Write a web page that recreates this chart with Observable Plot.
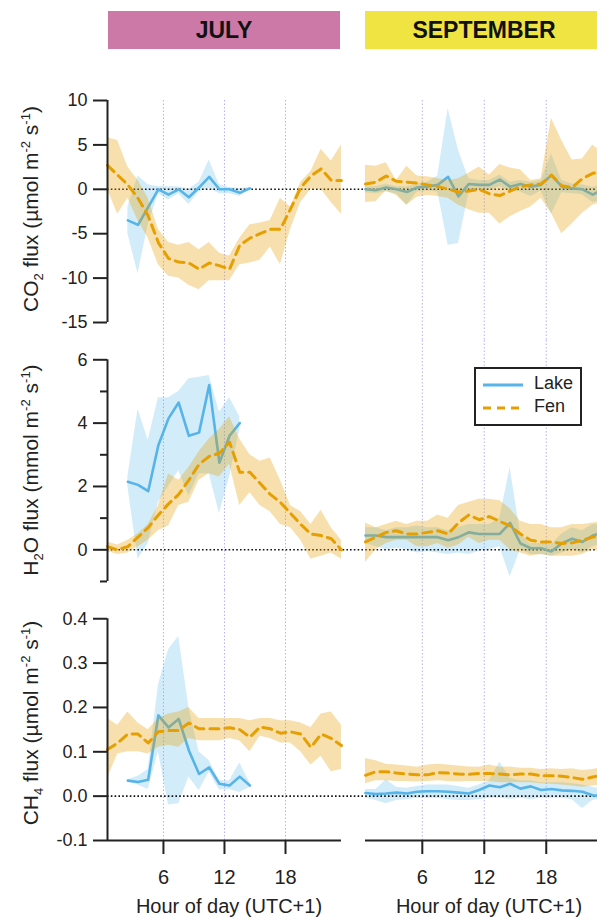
<!DOCTYPE html>
<html><head><meta charset="utf-8">
<script src="https://cdn.jsdelivr.net/npm/d3@7"></script>
<script src="https://cdn.jsdelivr.net/npm/@observablehq/plot@0.6"></script>
<style>
html,body{margin:0;padding:0;overflow:hidden;background:#fff}
body{width:597px;height:919px;position:relative;font-family:"Liberation Sans",Arial,sans-serif;color:#222}
.abs{position:absolute}
.hdr{position:absolute;top:11px;height:38px;line-height:38px;text-align:center;font-weight:bold;font-size:23px;color:#111}
.ytitle{position:absolute;width:300px;text-align:center;font-size:21px;white-space:nowrap;transform:translate(-50%,-50%) rotate(-90deg)}
.ytitle sub,.ytitle sup{font-size:0.62em;line-height:0}
.xtitle{position:absolute;width:240px;text-align:center;font-size:20px;transform:translateX(-50%)}
.legend{position:absolute;left:474px;top:367px;width:104px;height:55px;border:2px solid #222;background:#fff;font-size:18px}
.legend div{position:absolute;left:58px}
</style></head>
<body>
<script>
// ---------- data ----------
const hours = [0.5,1.5,2.5,3.5,4.5,5.5,6.5,7.5,8.5,9.5,10.5,11.5,12.5,13.5,14.5,15.5,16.5,17.5,18.5,19.5,20.5,21.5,22.5,23.5];
const lakeJulyHours = [2.5,3.5,4.5,5.5,6.5,7.5,8.5,9.5,10.5,11.5,12.5,13.5,14.5];
const lakeJulyH2OHours = [2.5,3.5,4.5,5.5,6.5,7.5,8.5,9.5,10.5,11.5,12.5,13.5];
const hourTicks = [6,12,18];
const months = ["JULY","SEPTEMBER"];
const seriesNames = ["Lake","Fen"];

// CO2 July
const co2JulFen   = [2.7,1.6,0.5,-1.0,-3.0,-6.0,-7.8,-8.2,-8.3,-9.0,-8.3,-8.6,-9.0,-6.3,-5.5,-5.0,-4.5,-4.5,-2.2,0.2,1.5,2.3,1.0,1.0];
const co2JulFenHi = [5.8,5.5,2.5,1.0,-1.0,-4.5,-6.0,-6.3,-6.0,-6.8,-6.0,-7.2,-7.5,-5.5,-4.0,-3.8,-3.5,-1.0,-2.0,0.8,2.0,4.5,3.2,5.0];
const co2JulFenLo = [0.0,-2.8,-1.0,-3.5,-5.5,-8.5,-9.8,-10.0,-10.8,-11.3,-10.3,-10.3,-10.3,-8.5,-8.3,-8.0,-6.5,-8.5,-4.5,-1.5,0.0,0.0,-1.5,-2.8];
const co2JulLake   = [-3.5,-4.0,-2.0,0.0,-0.6,0.0,-0.9,0.2,1.4,0.0,0.0,-0.4,0.1];
const co2JulLakeHi = [-2.0,1.5,0.5,0.3,0.3,0.3,0.0,0.8,3.3,0.5,0.2,0.1,0.2];
const co2JulLakeLo = [-5.0,-9.5,-4.0,-0.5,-1.2,-0.5,-1.7,-0.3,0.1,-0.5,-0.5,-0.8,0.0];
// CO2 September
const co2SepFen   = [0.6,0.8,1.5,0.9,0.8,0.7,0.5,0.3,0.0,-0.3,-0.2,0.0,-0.5,-0.7,-0.2,0.3,0.5,0.6,1.6,0.4,0.2,1.2,1.8,2.0];
const co2SepFenHi = [2.7,2.6,3.0,1.0,2.6,1.5,1.4,1.2,1.0,1.2,1.8,2.5,1.6,2.8,2.4,2.2,1.0,1.2,8.0,5.5,3.3,3.4,5.0,4.0];
const co2SepFenLo = [-1.5,-1.4,-0.2,-0.7,-1.8,-0.9,-0.7,-0.8,-1.0,-1.8,-2.3,-2.7,-2.7,-3.9,-3.1,-2.5,-2.0,-1.0,-2.7,-5.0,-3.9,-2.7,-1.8,-1.4];
const co2SepLake   = [0.0,-0.1,0.2,0.0,-0.3,0.2,0.3,0.5,1.4,-0.8,0.6,0.5,0.5,1.1,0.3,0.6,0.3,0.5,1.6,0.3,0.1,0.0,-0.6,0.0];
const co2SepLakeHi = [0.3,0.3,0.6,0.3,0.3,0.6,0.8,1.5,9.1,4.4,1.2,1.0,1.0,1.6,0.8,1.0,0.8,1.0,4.0,1.0,0.6,0.5,0.2,0.5];
const co2SepLakeLo = [-0.4,-0.5,-0.3,-0.5,-1.8,-0.3,-0.2,-0.3,-6.3,-6.1,-0.5,-0.1,-0.1,0.3,-0.2,-0.3,-0.8,-0.2,-2.8,-0.4,-0.5,-0.6,-1.5,-1.3];
// H2O July
const h2oJulFen   = [0.1,0.0,0.1,0.4,0.7,1.1,1.45,1.75,2.2,2.7,2.95,3.05,3.4,2.45,2.45,2.1,1.75,1.5,1.15,0.8,0.5,0.45,0.35,0.0];
const h2oJulFenHi = [0.25,0.15,0.3,0.5,0.8,1.4,2.4,2.2,2.6,3.1,3.5,3.8,4.2,3.5,3.0,2.8,2.9,2.2,1.4,1.2,0.8,1.25,0.7,0.3];
const h2oJulFenLo = [-0.05,-0.15,-0.1,0.1,0.3,0.6,0.75,1.4,1.5,2.2,2.4,2.3,2.7,1.4,1.8,1.4,1.2,0.8,0.7,0.3,-0.3,-0.2,-0.1,-0.3];
const h2oJulLake   = [2.15,2.05,1.85,3.3,4.15,4.65,3.6,3.7,5.2,2.75,3.6,4.0];
const h2oJulLakeHi = [2.3,4.45,3.45,4.8,4.8,5.0,5.4,5.45,5.5,4.35,4.8,4.2];
const h2oJulLakeLo = [2.0,-0.3,0.2,1.5,2.0,2.5,1.7,2.4,2.4,1.15,2.3,3.8];
// H2O September
const h2oSepFen   = [0.25,0.4,0.55,0.6,0.5,0.5,0.55,0.6,0.5,0.85,1.1,0.95,1.05,0.9,0.75,0.5,0.3,0.25,0.25,0.2,0.22,0.3,0.4,0.45];
const h2oSepFenHi = [0.85,0.7,0.8,0.9,0.8,0.9,0.9,1.1,1.0,1.4,1.5,1.6,1.6,1.55,1.3,0.9,0.8,0.8,0.7,0.7,0.8,0.8,0.85,0.9];
const h2oSepFenLo = [-0.4,0.0,0.2,0.3,0.3,0.1,0.1,0.2,0.05,0.15,0.4,0.2,0.3,0.3,0.0,-0.1,-0.2,-0.15,-0.2,-0.2,-0.2,-0.15,0.0,-0.1];
const h2oSepLake   = [0.45,0.45,0.4,0.4,0.4,0.4,0.4,0.4,0.3,0.4,0.55,0.5,0.5,0.5,0.85,0.2,0.05,0.05,-0.05,0.2,0.35,0.25,0.45,0.55];
const h2oSepLakeHi = [0.7,0.7,0.6,0.7,0.7,0.75,0.7,0.7,0.6,0.7,0.8,0.8,0.8,1.0,2.6,0.5,0.2,0.2,0.15,0.5,0.7,0.6,0.8,0.8];
const h2oSepLakeLo = [0.2,0.1,0.0,0.05,0.0,-0.1,-0.05,-0.1,-0.15,-0.1,-0.15,-0.05,0.0,0.1,-0.85,0.0,-0.15,-0.15,-0.2,-0.1,0.0,-0.1,0.1,0.2];
// CH4 July
const ch4JulFen   = [0.105,0.12,0.14,0.14,0.12,0.145,0.148,0.148,0.165,0.152,0.152,0.152,0.154,0.15,0.133,0.156,0.152,0.142,0.145,0.14,0.11,0.14,0.13,0.114];
const ch4JulFenHi = [0.175,0.16,0.19,0.165,0.15,0.175,0.185,0.19,0.2,0.175,0.175,0.175,0.175,0.175,0.17,0.175,0.175,0.17,0.17,0.165,0.155,0.185,0.19,0.16];
const ch4JulFenLo = [0.04,0.095,0.1,0.1,0.095,0.11,0.115,0.11,0.13,0.125,0.125,0.125,0.13,0.125,0.1,0.135,0.13,0.12,0.12,0.1,0.07,0.09,0.055,0.06];
const ch4JulLake   = [0.035,0.032,0.037,0.182,0.155,0.174,0.103,0.05,0.065,0.028,0.024,0.044,0.024];
const ch4JulLakeHi = [0.037,0.045,0.06,0.25,0.33,0.36,0.2,0.1,0.08,0.035,0.035,0.075,0.03];
const ch4JulLakeLo = [0.033,0.025,0.015,0.1,-0.02,-0.017,0.043,0.013,0.054,0.014,0.015,0.008,0.02];
// CH4 September
const ch4SepFen   = [0.047,0.055,0.055,0.052,0.05,0.048,0.048,0.053,0.052,0.05,0.049,0.051,0.051,0.05,0.048,0.05,0.05,0.046,0.046,0.045,0.042,0.038,0.043,0.048];
const ch4SepFenHi = [0.085,0.08,0.072,0.07,0.068,0.065,0.07,0.072,0.07,0.068,0.066,0.065,0.07,0.065,0.066,0.063,0.063,0.06,0.062,0.06,0.062,0.058,0.06,0.065];
const ch4SepFenLo = [0.028,0.035,0.035,0.033,0.033,0.032,0.033,0.035,0.033,0.032,0.033,0.033,0.033,0.03,0.03,0.03,0.03,0.028,0.027,0.025,0.023,0.02,0.023,0.025];
const ch4SepLake   = [0.007,0.005,0.006,0.008,0.006,0.01,0.011,0.011,0.01,0.008,0.006,0.014,0.024,0.02,0.028,0.017,0.022,0.014,0.016,0.013,0.012,0.01,0.002,0.0];
const ch4SepLakeHi = [0.015,0.015,0.037,0.02,0.018,0.022,0.025,0.025,0.025,0.022,0.018,0.025,0.035,0.077,0.04,0.035,0.035,0.03,0.03,0.03,0.028,0.025,0.02,0.015];
const ch4SepLakeLo = [-0.005,-0.01,-0.017,-0.01,-0.008,-0.005,-0.005,-0.005,-0.008,-0.01,-0.01,-0.008,-0.005,-0.005,-0.007,-0.005,-0.008,-0.005,-0.005,-0.005,-0.008,-0.028,-0.01,-0.005];

// ---------- build ----------
const lakeColor = "#56b4e9", fenColor = "#e69f00";
const monthColors = ["#cc79a7", "#f0e442"];
function rows(xs, v, lo, hi){ return xs.map((h,i)=>({h, v:v[i], lo:lo[i], hi:hi[i]})); }

const panels = {
  co2: [[rows(lakeJulyHours,co2JulLake,co2JulLakeLo,co2JulLakeHi), rows(hours,co2JulFen,co2JulFenLo,co2JulFenHi)],
        [rows(hours,co2SepLake,co2SepLakeLo,co2SepLakeHi), rows(hours,co2SepFen,co2SepFenLo,co2SepFenHi)]],
  h2o: [[rows(lakeJulyH2OHours,h2oJulLake,h2oJulLakeLo,h2oJulLakeHi), rows(hours,h2oJulFen,h2oJulFenLo,h2oJulFenHi)],
        [rows(hours,h2oSepLake,h2oSepLakeLo,h2oSepLakeHi), rows(hours,h2oSepFen,h2oSepFenLo,h2oSepFenHi)]],
  ch4: [[rows(lakeJulyHours,ch4JulLake,ch4JulLakeLo,ch4JulLakeHi), rows(hours,ch4JulFen,ch4JulFenLo,ch4JulFenHi)],
        [rows(hours,ch4SepLake,ch4SepLakeLo,ch4SepLakeHi), rows(hours,ch4SepFen,ch4SepFenLo,ch4SepFenHi)]]
};

const rowCfg = [
  {key:"co2", top:100, height:240, mb:0, domain:[-17.027,10], axis:[-15,10], ticks:[-15,-10,-5,0,5,10], minor:[], fmt:d=>String(d),
   title:'CO<sub>2</sub> flux (µmol m<sup>-2</sup> s<sup>-1</sup>)', tcy:209},
  {key:"h2o", top:340, height:250, mb:0, domain:[-1.285,6.609], axis:[-1,6], ticks:[0,2,4,6], minor:[-1,1,3,5], fmt:d=>String(d),
   title:'H<sub>2</sub>O flux (mmol m<sup>-2</sup> s<sup>-1</sup>)', tcy:470},
  {key:"ch4", top:590, height:329, mb:79, domain:[-0.1,0.4637], axis:[-0.1,0.4], ticks:[-0.1,0,0.1,0.2,0.3,0.4], minor:[], fmt:d=>d.toFixed(1),
   title:'CH<sub>4</sub> flux (µmol m<sup>-2</sup> s<sup>-1</sup>)', tcy:723}
];
const colCfg = [
  {left:0, width:350, ml:107, xdomain:[0.5,24.39], showY:true, axisX:[0.5,23.5], xt:229},
  {left:350, width:260, ml:0, xdomain:[-0.952,24.22], showY:false, axisX:[0.5,24.22], xt:489}
];

// headers
const hdrPos = [{left:108,width:232},{left:365,width:238}];
months.forEach((m,i)=>{
  const d = document.createElement("div");
  d.className = "hdr";
  d.style.left = hdrPos[i].left+"px"; d.style.width = hdrPos[i].width+"px";
  d.style.background = monthColors[i];
  d.textContent = m;
  document.body.appendChild(d);
});

rowCfg.forEach((r, ri) => {
  colCfg.forEach((c, ci) => {
    const [lake, fen] = panels[r.key][ci];
    const last = ri === rowCfg.length - 1;
    const marks = [
      Plot.ruleX(hourTicks, {stroke:"#a3a3f7", strokeOpacity:0.85, strokeWidth:1, strokeDasharray:"1.5,2"}),
      Plot.areaY(lake, {x:"h", y1:"lo", y2:"hi", fill:lakeColor, fillOpacity:0.26}),
      Plot.ruleY([0], {stroke:"#111", strokeWidth:1.6, strokeDasharray:"1.6,2.2"}),
      Plot.line(lake, {x:"h", y:"v", stroke:lakeColor, strokeWidth:2.6}),
      Plot.areaY(fen, {x:"h", y1:"lo", y2:"hi", fill:fenColor, fillOpacity:0.32}),
      Plot.line(fen, {x:"h", y:"v", stroke:fenColor, strokeWidth:3, strokeDasharray:"9,6"})
    ];
    if (c.showY) {
      marks.push(Plot.ruleX([c.xdomain[0]], {y1:r.axis[0], y2:r.axis[1], stroke:"#222", strokeWidth:2}));
      marks.push(Plot.axisY(r.ticks, {anchor:"left", tickSize:14, tickPadding:6, fontSize:18, tickFormat:r.fmt, label:null, color:"#222", strokeWidth:2}));
      if (r.minor.length) marks.push(Plot.axisY(r.minor, {anchor:"left", tickSize:7, tickFormat:()=>"", label:null, color:"#222", strokeWidth:2}));
    }
    if (last) {
      marks.push(Plot.ruleY([r.axis[0]], {x1:c.axisX[0], x2:c.axisX[1], stroke:"#222", strokeWidth:2}));
      marks.push(Plot.axisX(hourTicks, {anchor:"bottom", tickSize:14, tickPadding:15, fontSize:20, label:null, color:"#222", strokeWidth:2}));
    }
    const svg = Plot.plot({
      width:c.width, height:r.height,
      marginLeft:c.ml, marginRight:0, marginTop:0, marginBottom:r.mb,
      x:{domain:c.xdomain, axis:null, label:null},
      y:{domain:r.domain, axis:null, label:null},
      style:{overflow:"visible", background:"transparent", maxWidth:"none", fontFamily:"'Liberation Sans', Arial, sans-serif"},
      marks
    });
    const wrap = document.createElement("div");
    wrap.className = "abs";
    wrap.style.left = c.left+"px"; wrap.style.top = r.top+"px";
    wrap.style.width = c.width+"px"; wrap.style.height = r.height+"px";
    wrap.appendChild(svg);
    document.body.appendChild(wrap);
    if (last) {
      const xt = document.createElement("div");
      xt.className = "xtitle";
      xt.style.left = c.xt+"px"; xt.style.top = "895px";
      xt.textContent = "Hour of day (UTC+1)";
      document.body.appendChild(xt);
    }
  });
  const yt = document.createElement("div");
  yt.className = "ytitle";
  yt.style.left = "31px"; yt.style.top = r.tcy+"px";
  yt.innerHTML = r.title;
  document.body.appendChild(yt);
});

// legend
const lg = document.createElement("div");
lg.className = "legend";
lg.innerHTML =
  '<svg width="104" height="55" style="position:absolute;left:0;top:0">' +
  '<line x1="7" x2="47" y1="16" y2="16" stroke="'+lakeColor+'" stroke-width="3"/>' +
  '<line x1="7" x2="47" y1="39" y2="39" stroke="'+fenColor+'" stroke-width="3" stroke-dasharray="8,6"/></svg>' +
  '<div style="top:4px">'+seriesNames[0]+'</div><div style="top:27px">'+seriesNames[1]+'</div>';
document.body.appendChild(lg);
</script>
</body></html>
